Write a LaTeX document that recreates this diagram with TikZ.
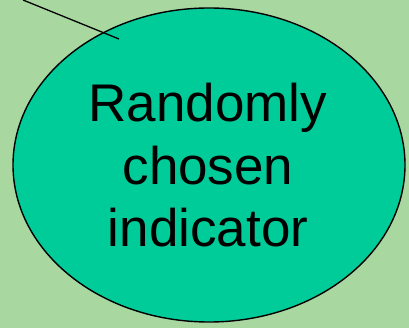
\documentclass[tikz,border=0pt]{standalone}
\usepackage{fontspec}
\setmainfont{Liberation Sans}
\usetikzlibrary{shapes.geometric}
\definecolor{bgg}{RGB}{168,216,160}
\definecolor{teal1}{RGB}{0,204,153}
\tikzset{
  blob/.style={ellipse, draw=black, line width=1.4pt, fill=teal1, minimum width=392pt, minimum height=314pt, inner sep=0pt},
  lbl/.style={anchor=base, inner sep=0pt, font=\fontsize{53}{62}\selectfont},
  lead/.style={draw=black, line width=1.3pt}
}
\begin{document}
\begin{tikzpicture}[x=1pt,y=-1pt]
\fill[bgg] (0,0) rectangle (409,328);
\useasboundingbox (0,0) rectangle (409,328);
\node[blob] (e) at (209,165) {};
\node[lbl] (l1) at (208,122) {Randomly};
\node[lbl] (l2) at (208,185) {chosen};
\node[lbl] (l3) at (208,247) {indicator};
\coordinate (s) at (23,0);
\coordinate (t) at (119,39);
\draw[lead] (s) -- (t);
\end{tikzpicture}
\end{document}
